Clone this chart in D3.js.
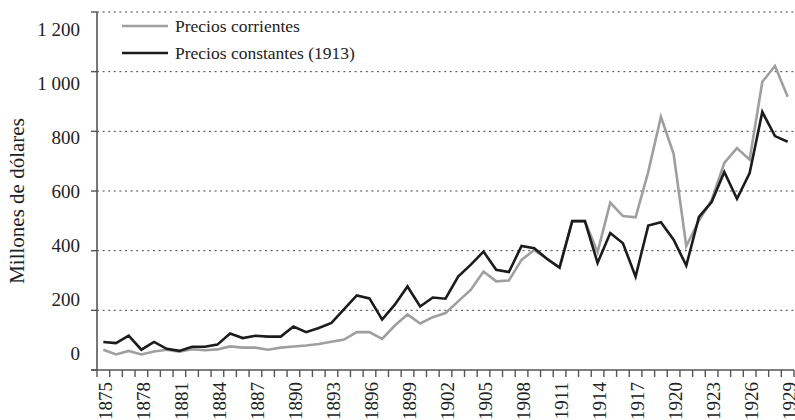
<!DOCTYPE html>
<html>
<head>
<meta charset="utf-8">
<script src="https://cdn.jsdelivr.net/npm/d3@7"></script>
<style>
  html, body { margin: 0; padding: 0; background: #fff; }
  svg { display: block; }
  text { font-family: "Liberation Serif", "Times New Roman", serif; fill: #222; }
</style>
</head>
<body>
<svg id="chart" width="795" height="420"></svg>
<script>
const years = [1875,1876,1877,1878,1879,1880,1881,1882,1883,1884,1885,1886,1887,1888,1889,
  1890,1891,1892,1893,1894,1895,1896,1897,1898,1899,1900,1901,1902,1903,1904,1905,1906,1907,
  1908,1909,1910,1911,1912,1913,1914,1915,1916,1917,1918,1919,1920,1921,1922,1923,1924,1925,
  1926,1927,1928,1929];

const preciosCorrientes = [68,52,64,52,62,68,61,70,66,69,79,75,75,68,75,
  79,82,87,95,102,127,127,104,149,186,156,177,191,230,269,330,297,300,
  369,402,373,343,499,499,395,561,516,512,664,849,725,415,501,569,694,744,
  705,966,1019,916];

const preciosConstantes = [94,90,115,68,94,71,64,78,78,85,122,107,115,112,112,
  146,127,141,158,204,250,240,169,219,280,213,243,239,313,353,397,336,328,
  416,408,373,343,499,499,359,459,425,313,484,495,437,350,513,563,664,574,
  660,865,784,765];

const yTickValues = [0,200,400,600,800,1000,1200];
const yTickLabels = ["0","200","400","600","800","1 000","1 200"];
const xLabelYears = [1875,1878,1881,1884,1887,1890,1893,1896,1899,1902,1905,1908,1911,1914,1917,1920,1923,1926,1929];

const seriesNames = ["Precios corrientes","Precios constantes (1913)"];
const seriesColors = ["#9f9f9f","#1c1c1c"];

const svg = d3.select("#chart");
const mLeft = 97, mRight = 794, mTop = 12, mBottom = 370;

const x = d3.scaleBand().domain(years).range([mLeft, mRight]).paddingInner(0).paddingOuter(0);
const y = d3.scaleLinear().domain([0,1200]).range([mBottom, mTop]);
// tick labels in the reference are spaced slightly differently from the grid
const yLabelPos = d3.scaleLinear().domain([0,1200]).range([353, 29]);

// grid lines
svg.append("g").selectAll("line")
  .data(yTickValues.filter(v => v > 0))
  .join("line")
  .attr("x1", mLeft).attr("x2", 795)
  .attr("y1", d => y(d)).attr("y2", d => y(d))
  .attr("stroke", "#444").attr("stroke-width", 1)
  .attr("stroke-dasharray", "2,3.6");

// y axis line and ticks
const axisColor = "#555";
svg.append("line").attr("x1", mLeft).attr("x2", mLeft).attr("y1", y(1200)).attr("y2", y(0))
  .attr("stroke", axisColor).attr("stroke-width", 1.6);
svg.append("g").selectAll("line").data(yTickValues).join("line")
  .attr("x1", mLeft - 6).attr("x2", mLeft).attr("y1", d => y(d)).attr("y2", d => y(d))
  .attr("stroke", axisColor).attr("stroke-width", 1.4);
svg.append("g").selectAll("text").data(yTickValues).join("text")
  .attr("x", 80).attr("y", d => yLabelPos(d)).attr("dy", "0.35em")
  .attr("text-anchor", "end").attr("font-size", 19)
  .text((d,i) => yTickLabels[i]);

// x axis line and ticks at band boundaries
svg.append("line").attr("x1", mLeft - 6).attr("x2", mRight).attr("y1", mBottom).attr("y2", mBottom)
  .attr("stroke", axisColor).attr("stroke-width", 1.6);
const boundaries = years.map(d => x(d)).concat([x(years[years.length-1]) + x.bandwidth()]);
svg.append("g").selectAll("line").data(boundaries).join("line")
  .attr("x1", d => d).attr("x2", d => d).attr("y1", mBottom).attr("y2", mBottom + 7)
  .attr("stroke", axisColor).attr("stroke-width", 1.4);
svg.append("g").selectAll("text").data(xLabelYears).join("text")
  .attr("transform", d => `translate(${x(d) + x.bandwidth()/2 + 2},382) rotate(-90)`)
  .attr("dy", "0.35em").attr("text-anchor", "end").attr("font-size", 19)
  .text(d => d);

// axis title
svg.append("text")
  .attr("transform", "translate(17,201) rotate(-90)")
  .attr("dy", "0.35em").attr("text-anchor", "middle").attr("font-size", 21)
  .text("Millones de dólares");

// lines
const line = d3.line().x((d,i) => x(years[i]) + x.bandwidth()/2).y(d => y(d));
[preciosCorrientes, preciosConstantes].forEach((s, k) => {
  svg.append("path").datum(s).attr("d", line)
    .attr("fill", "none").attr("stroke", seriesColors[k]).attr("stroke-width", 2.6)
    .attr("stroke-linejoin", "miter");
});

// legend
const legend = svg.append("g");
seriesNames.forEach((n, k) => {
  const ly = 26 + k * 27;
  legend.append("line").attr("x1", 122).attr("x2", 168).attr("y1", ly).attr("y2", ly)
    .attr("stroke", seriesColors[k]).attr("stroke-width", 2.6);
  legend.append("text").attr("x", 175).attr("y", ly).attr("dy", "0.32em")
    .attr("font-size", 17.5).text(n);
});
</script>
</body>
</html>
